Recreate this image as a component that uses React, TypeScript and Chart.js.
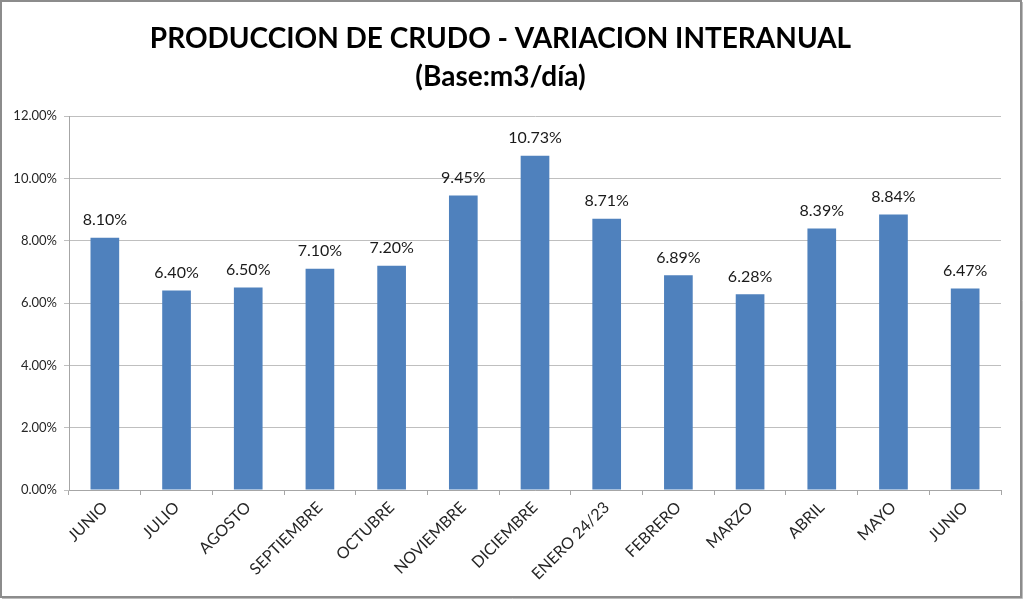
import React, { useEffect, useRef } from "react";
import { Chart, registerables } from "chart.js";

Chart.register(...registerables);

const categories = [
  "JUNIO",
  "JULIO",
  "AGOSTO",
  "SEPTIEMBRE",
  "OCTUBRE",
  "NOVIEMBRE",
  "DICIEMBRE",
  "ENERO 24/23",
  "FEBRERO",
  "MARZO",
  "ABRIL",
  "MAYO",
  "JUNIO",
];

const variacionPct = [8.1, 6.4, 6.5, 7.1, 7.2, 9.45, 10.73, 8.71, 6.89, 6.28, 8.39, 8.84, 6.47];

const titleLines = ["PRODUCCION DE CRUDO - VARIACION INTERANUAL", "(Base:m3/día)"];

const yMin = 0;
const yMax = 12;
const yStep = 2;

const FONT = "Lato, 'Open Sans', sans-serif";

const framePlugin = {
  id: "frame",
  beforeDraw(chart: any) {
    const { ctx, width, height } = chart;
    ctx.save();
    ctx.fillStyle = "#ffffff";
    ctx.fillRect(0, 0, width, height);
    ctx.strokeStyle = "#8c8c8c";
    ctx.lineWidth = 2;
    ctx.strokeRect(1, 1, width - 3, height - 3);
    ctx.strokeStyle = "#bdbdbd";
    ctx.lineWidth = 1;
    ctx.beginPath();
    ctx.moveTo(width - 0.5, 2);
    ctx.lineTo(width - 0.5, height - 0.5);
    ctx.lineTo(2, height - 0.5);
    ctx.stroke();
    ctx.restore();
  },
};

const valueLabelPlugin = {
  id: "valueLabels",
  afterDatasetsDraw(chart: any) {
    const { ctx } = chart;
    const meta = chart.getDatasetMeta(0);
    const data = chart.data.datasets[0].data as number[];
    ctx.save();
    ctx.font = `16px ${FONT}`;
    ctx.fillStyle = "#1a1a1a";
    ctx.textAlign = "center";
    ctx.textBaseline = "middle";
    meta.data.forEach((bar: any, i: number) => {
      ctx.fillText(data[i].toFixed(2) + "%", bar.x, bar.y - 18);
    });
    ctx.restore();
  },
};

export default function App() {
  const canvasRef = useRef<HTMLCanvasElement | null>(null);

  useEffect(() => {
    if (!canvasRef.current) return;
    const chart = new Chart(canvasRef.current, {
      type: "bar",
      data: {
        labels: categories,
        datasets: [
          {
            data: variacionPct,
            backgroundColor: "#4f81bd",
            borderWidth: 0,
            barPercentage: 0.4,
            categoryPercentage: 1,
          },
        ],
      },
      options: {
        responsive: false,
        animation: false,
        layout: { padding: { left: 0, right: 22, top: 0, bottom: 0 } },
        plugins: {
          legend: { display: false },
          tooltip: { enabled: false },
          title: {
            display: true,
            text: titleLines,
            color: "#000000",
            font: { family: FONT, size: 28, weight: "bold", lineHeight: 1.36 },
            padding: { top: 20, bottom: 20 },
          },
        },
        scales: {
          x: {
            grid: {
              display: true,
              drawOnChartArea: false,
              drawTicks: true,
              tickLength: 5,
              color: "#a6a6a6",
              offset: true,
            },
            border: { display: true, color: "#a6a6a6" },
            ticks: {
              color: "#262626",
              font: { family: FONT, size: 16 },
              minRotation: 45,
              maxRotation: 45,
              autoSkip: false,
              padding: 3,
            },
            afterFit(scale: any) {
              scale.height = 109;
            },
          },
          y: {
            min: yMin,
            max: yMax,
            grid: { color: "#bfbfbf", tickLength: 5 },
            border: { display: true, color: "#a6a6a6" },
            ticks: {
              stepSize: yStep,
              color: "#262626",
              font: { family: FONT, size: 13 },
              padding: 7,
              callback: (v: any) => Number(v).toFixed(2) + "%",
            },
            afterFit(scale: any) {
              scale.width = 69;
            },
          },
        },
      },
      plugins: [framePlugin, valueLabelPlugin],
    });
    return () => chart.destroy();
  }, []);

  return (
    <div style={{ position: "absolute", left: 0, top: 0, width: 1023, height: 599 }}>
      <canvas ref={canvasRef} width={1023} height={599} style={{ display: "block" }} />
    </div>
  );
}
